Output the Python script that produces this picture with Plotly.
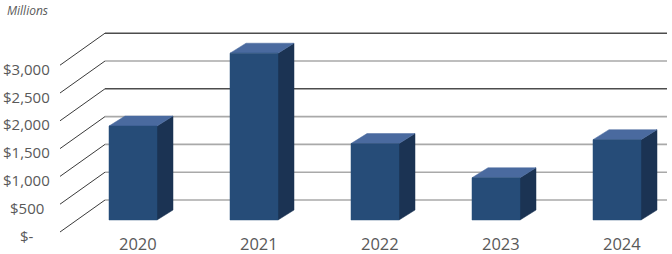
import plotly.graph_objects as go

# ---- data ----
years = ["2020", "2021", "2022", "2023", "2024"]
values = [1690, 3000, 1375, 760, 1445]
tick_values = [0, 500, 1000, 1500, 2000, 2500, 3000]
tick_labels = ["$-", "$500", "$1,000", "$1,500", "$2,000", "$2,500", "$3,000"]
unit_label = "Millions"

# ---- layout / projection constants (pixels) ----
W, H = 672, 254
X0_PX, CAT_PX = 133, 121          # first category centre, px per category
Y0_PX, VAL_PX = 220, 27.8 / 500   # zero line of bar front plane, px per value unit
BAR_W_PX = 48
DEPTH_DX, DEPTH_DY = 16, 10       # bar depth (oblique)
FLOOR_FRONT = (-73, -12)          # left-front grid end vs bar plane origin (x px from cat0, y px up)
FLOOR_BACK = (-28, 20)
WALL_RIGHT_PX = 667
TICK_LABEL_CENTER_PX = 26.5

FRONT_C = "#264c78"
TOP_C = "#4a6a9f"
SIDE_C = "#1b3353"
GRID_C = "#a9a9a9"
GRID_DARK = "#4d4d4d"
TEXT_C = "#595959"
FONT = "Open Sans"


def cx(px):  # pixel x-offset -> category units
    return px / CAT_PX


def vy(px):  # pixel up-offset -> value units
    return px / VAL_PX


def pxx(p):  # absolute pixel x -> data x
    return (p - X0_PX) / CAT_PX


fig = go.Figure()

# gridlines: diagonal on left + back wall line
for v in tick_values:
    xf = cx(FLOOR_FRONT[0]); yf = v + vy(FLOOR_FRONT[1])
    xb = cx(FLOOR_BACK[0]); yb = v + vy(FLOOR_BACK[1])
    fig.add_trace(go.Scatter(x=[xf, xb], y=[yf, yb], mode="lines",
                             line=dict(color="#3a3a3a", width=1),
                             hoverinfo="skip", showlegend=False))
    dark = v in (2000, 3000)
    fig.add_trace(go.Scatter(x=[xb, pxx(WALL_RIGHT_PX)], y=[yb, yb], mode="lines",
                             line=dict(color=GRID_DARK if dark else GRID_C, width=1.6),
                             hoverinfo="skip", showlegend=False))

# bars
hw = cx(BAR_W_PX / 2)
ddx = cx(DEPTH_DX)
ddy = vy(DEPTH_DY)
for i, v in enumerate(values):
    l, r = i - hw, i + hw
    side = ([r, r, r + ddx, r + ddx, r], [0, v, v + ddy, ddy, 0])
    top = ([l, r, r + ddx, l + ddx, l], [v, v, v + ddy, v + ddy, v])
    front = ([l, r, r, l, l], [0, 0, v, v, 0])
    for (xs, ys), c in ((side, SIDE_C), (top, TOP_C), (front, FRONT_C)):
        fig.add_trace(go.Scatter(x=xs, y=ys, mode="lines", fill="toself",
                                 fillcolor=c, line=dict(color=c, width=0.5),
                                 hoverinfo="skip", showlegend=False))

annotations = []
for v, t in zip(tick_values, tick_labels):
    annotations.append(dict(x=pxx(TICK_LABEL_CENTER_PX), y=v + vy(FLOOR_FRONT[1] - 3.5), text=t,
                            xref="x", yref="y", showarrow=False,
                            xanchor="center", yanchor="middle",
                            font=dict(family=FONT, size=15, color=TEXT_C)))
for i, yr in enumerate(years):
    annotations.append(dict(x=i + cx(5), y=vy(-23.5), text=yr,
                            xref="x", yref="y", showarrow=False, borderpad=0,
                            xanchor="center", yanchor="middle",
                            font=dict(family=FONT, size=16.5, color=TEXT_C)))
annotations.append(dict(x=5 / W, y=1 - 10 / H, text="<i>" + unit_label + "</i>",
                        xref="paper", yref="paper", showarrow=False,
                        xanchor="left", yanchor="middle",
                        font=dict(family=FONT, size=12, color=TEXT_C)))

fig.update_layout(
    width=W, height=H,
    margin=dict(l=0, r=0, t=0, b=0),
    paper_bgcolor="white", plot_bgcolor="white",
    xaxis=dict(range=[-X0_PX / CAT_PX, (W - X0_PX) / CAT_PX], visible=False, fixedrange=True),
    yaxis=dict(range=[-(H - Y0_PX) / VAL_PX, Y0_PX / VAL_PX], visible=False, fixedrange=True),
    annotations=annotations,
    showlegend=False,
)

fig.write_html("out.html")
